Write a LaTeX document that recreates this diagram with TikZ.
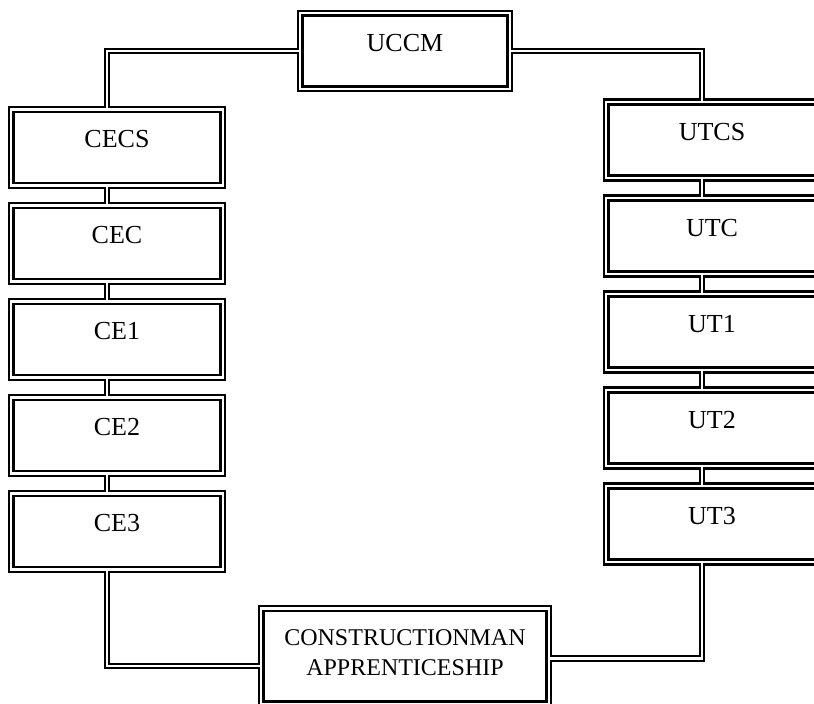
\documentclass[tikz,border=0pt]{standalone}
\usepackage{fontspec}
\setmainfont{Liberation Serif}
\begin{document}
\begin{tikzpicture}[x=1pt,y=-1pt,
  dframe/.style={draw, double, line width=2.6pt, double distance=2.1pt, inner sep=0pt},
  dbox/.style={dframe, minimum width=211.2pt, text height=38pt, text depth=38pt,
    font=\fontsize{26}{31}\selectfont},
  dline/.style={draw, double, line width=2pt, double distance=2.3pt},
  btxt/.style={inner sep=0pt, align=center, font=\fontsize{24}{30}\selectfont}]
\useasboundingbox (0,0) rectangle (814,704);
% top box
\node[dbox, minimum width=209.2pt, text height=37.6pt, text depth=37.6pt] (uccm) at (405,51) {UCCM};
% left column
\node[dbox] (cecs) at (117,147.5) {CECS};
\node[dbox] (cec) at (117,243.5) {CEC};
\node[dbox] (ce1) at (117,339.5) {CE1};
\node[dbox] (ce2) at (117,435.5) {CE2};
\node[dbox] (ce3) at (117,531.5) {CE3};
% right column
\node[dbox] (utcs) at (712,140) {UTCS};
\node[dbox] (utc) at (712,236) {UTC};
\node[dbox] (ut1) at (712,332) {UT1};
\node[dbox] (ut2) at (712,428) {UT2};
\node[dbox] (ut3) at (712,524) {UT3};
% bottom box
\node[dframe, minimum width=287.2pt, minimum height=95.1pt] (con) at (405,656) {};
\node[btxt, anchor=north, yshift=-22pt] (contxt) at (con.north) {CONSTRUCTIONMAN\\APPRENTICESHIP};
% connectors
\draw[dline] (uccm.west) -| ([xshift=-10pt]cecs.north);
\draw[dline] (uccm.east) -| ([xshift=-10pt]utcs.north);
\draw[dline] ([xshift=-10pt]cecs.south) -- ([xshift=-10pt]cec.north);
\draw[dline] ([xshift=-10pt]cec.south) -- ([xshift=-10pt]ce1.north);
\draw[dline] ([xshift=-10pt]ce1.south) -- ([xshift=-10pt]ce2.north);
\draw[dline] ([xshift=-10pt]ce2.south) -- ([xshift=-10pt]ce3.north);
\draw[dline] ([xshift=-10pt]utcs.south) -- ([xshift=-10pt]utc.north);
\draw[dline] ([xshift=-10pt]utc.south) -- ([xshift=-10pt]ut1.north);
\draw[dline] ([xshift=-10pt]ut1.south) -- ([xshift=-10pt]ut2.north);
\draw[dline] ([xshift=-10pt]ut2.south) -- ([xshift=-10pt]ut3.north);
\draw[dline] ([xshift=-10pt]ce3.south) |- ([yshift=-10pt]con.west);
\draw[dline] ([xshift=-10pt]ut3.south) |- ([yshift=-2.5pt]con.east);
\end{tikzpicture}
\end{document}
